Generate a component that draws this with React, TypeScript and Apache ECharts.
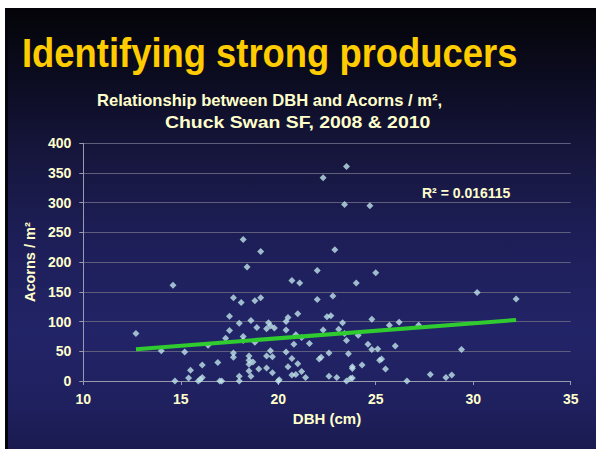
import React, { useEffect, useRef } from "react";
import * as echarts from "echarts";

const dbh = [
  12.7, 14.0, 14.6, 14.7, 15.2, 15.4, 15.5, 15.9, 16.0, 16.1, 16.1, 16.4, 16.9, 17.0, 17.1,
  17.3, 17.5, 17.5, 17.7, 17.7, 17.7, 18.0, 18.0, 18.0, 18.1, 18.2, 18.2, 18.2, 18.4, 18.5,
  18.5, 18.5, 18.5, 18.6, 18.6, 18.7, 18.8, 18.8, 18.9, 19.0, 19.1, 19.1, 19.4, 19.4, 19.4,
  19.5, 19.6, 19.7, 19.7, 19.8, 19.6, 20.0, 20.05, 20.4, 20.4, 20.4, 20.5, 20.5, 20.7, 20.7,
  20.7, 20.8, 20.9, 20.9, 21.0, 21.0, 21.1, 21.2, 21.2, 21.4, 21.6, 22.0, 22.0, 22.1, 22.2,
  22.3, 22.3, 22.5, 22.6, 22.6, 22.7, 22.8, 22.9, 23.0, 23.1, 23.3, 23.4, 23.4, 23.5, 23.5,
  23.5, 23.6, 23.7, 23.8, 23.8, 23.8, 24.0, 24.1, 24.3, 24.6, 24.7, 24.8, 24.8, 25.0, 25.1,
  25.2, 25.3, 25.5, 25.7, 26.0, 26.2, 26.6, 27.2, 27.8, 28.6, 28.9, 29.4, 30.2, 32.2,
];
const acorns = [
  80, 51, 161, 0, 49, 5, 18, 0, 3, 6, 27, 60, 31, 0, 0,
  72, 109, 85, 140, 47, 40, 97, 8, 0, 132, 75, 68, 238, 192, 42,
  35, 28, 17, 102, 8, 32, 135, 65, 90, 20, 140, 218, 88, 42, 22,
  98, 51, 41, 14, 89, 93, 0, 2, 100, 86, 49, 107, 24, 169, 38,
  10, 62, 78, 11, 113, 29, 165, 73, 16, 6, 63, 137, 186, 37, 40,
  342, 86, 108, 47, 8, 110, 143, 221, 6, 87, 98, 80, 297, 361, 68,
  0, 46, 4, 5, 24, 21, 165, 77, 27, 62, 295, 104, 53, 182, 54,
  35, 37, 20, 94, 59, 99, 0, 94, 11, 6, 10, 53, 149, 138,
];
const trendX = [12.7, 32.2];
const trendY = [53.5, 102.7];
const xTicks = { min: 10, max: 35, interval: 5 };
const yTicks = { min: 0, max: 400, interval: 50 };
const titleText = "Identifying strong producers";
const subtitle1 = "Relationship between DBH and Acorns / m²,";
const subtitle2 = "Chuck Swan SF, 2008 & 2010";
const r2Text = "R² = 0.016115";

const FONT = "'Liberation Sans', Arial, sans-serif";
const CREAM = "#FFFFCC";

export default function App() {
  const ref = useRef<HTMLDivElement>(null);
  useEffect(() => {
    if (!ref.current) return;
    const chart = echarts.init(ref.current, undefined, { renderer: "svg" });
    const points = dbh.map((x, i) => [x, acorns[i]]);
    const trend = trendX.map((x, i) => [x, trendY[i]]);
    chart.setOption({
      animation: false,
      backgroundColor: "transparent",
      grid: { left: 83.3, right: 25.3, top: 143.3, bottom: 68, containLabel: false },
      xAxis: {
        type: "value",
        min: xTicks.min,
        max: xTicks.max,
        interval: xTicks.interval,
        name: "DBH (cm)",
        nameLocation: "middle",
        nameGap: 30,
        nameTextStyle: { color: CREAM, fontFamily: FONT, fontWeight: "bold", fontSize: 15 },
        axisLine: { show: true, lineStyle: { color: "#9a9aae", width: 1 } },
        axisTick: { show: true, length: 4, lineStyle: { color: "#9a9aae" } },
        axisLabel: { color: CREAM, fontFamily: FONT, fontWeight: "bold", fontSize: 14, margin: 11 },
        splitLine: { show: false },
      },
      yAxis: {
        type: "value",
        min: yTicks.min,
        max: yTicks.max,
        interval: yTicks.interval,
        name: "Acorns / m²",
        nameLocation: "middle",
        nameGap: 35,
        nameTextStyle: { color: CREAM, fontFamily: FONT, fontWeight: "bold", fontSize: 14.5 },
        axisLine: { show: true, lineStyle: { color: "#9a9aae", width: 1 } },
        axisTick: { show: true, length: 4, lineStyle: { color: "#9a9aae" } },
        axisLabel: { color: CREAM, fontFamily: FONT, fontWeight: "bold", fontSize: 14, margin: 12 },
        splitLine: { show: true, lineStyle: { color: "#5e5e7c", width: 1 } },
      },
      series: [
        {
          type: "scatter",
          data: points,
          symbol: "diamond",
          symbolSize: 7,
          itemStyle: { color: "#BFE3EA" },
          z: 2,
        },
        {
          type: "line",
          data: trend,
          symbol: "none",
          lineStyle: { color: "#2FCB2F", width: 4 },
          z: 3,
        },
      ],
      graphic: [
        {
          type: "text",
          x: 22,
          y: 53,
          scaleX: 0.91,
          style: {
            text: titleText,
            font: `bold 40px ${FONT}`,
            fill: "#FFCC00",
            textVerticalAlign: "middle",
          },
        },
        {
          type: "text",
          x: 97,
          y: 100,
          style: {
            text: subtitle1,
            font: `bold 16.6px ${FONT}`,
            fill: CREAM,
            textVerticalAlign: "middle",
          },
        },
        {
          type: "text",
          x: 165,
          y: 122.5,
          scaleX: 1.17,
          style: {
            text: subtitle2,
            font: `bold 16.6px ${FONT}`,
            fill: CREAM,
            textVerticalAlign: "middle",
          },
        },
        {
          type: "text",
          x: 422,
          y: 193,
          style: {
            text: r2Text,
            font: `bold 14px ${FONT}`,
            fill: CREAM,
            textVerticalAlign: "middle",
          },
        },
      ],
    });
    return () => chart.dispose();
  }, []);

  return (
    <div style={{ position: "fixed", left: 0, top: 0, width: 596, height: 449, background: "#ffffff", overflow: "hidden" }}>
      <div
        style={{
          position: "absolute",
          left: 5,
          top: 8,
          right: 0,
          bottom: 0,
          borderLeft: "3px solid #04040a",
          background:
            "linear-gradient(to bottom, #040408 0%, #0d0d24 18%, #16163d 33%, #1d1e57 52%, #222468 74%, #1f205e 90%, #1b1b50 100%)",
        }}
      />
      <div ref={ref} style={{ position: "absolute", left: 0, top: 0, width: 596, height: 449 }} />
    </div>
  );
}
